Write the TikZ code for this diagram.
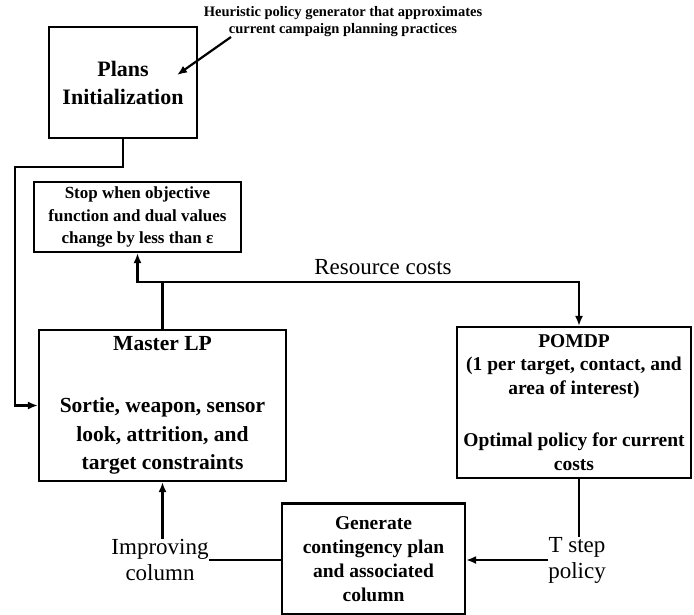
\documentclass[tikz,border=0pt]{standalone}
\usepackage{fontspec}
\setmainfont{Liberation Serif}
\usetikzlibrary{arrows.meta}
\begin{document}
\begin{tikzpicture}[x=1pt,y=-1pt,
  box/.style={draw, line width=2.2pt, align=center, inner sep=0pt},
  conn/.style={line width=2.2pt},
  arr/.style={conn, -{Latex[length=10pt,width=8pt]}},
  lbl/.style={align=center, inner sep=0pt, font=\fontsize{23}{26}\selectfont}]
\useasboundingbox (0,0) rectangle (694,614);

% process boxes
\node[box, minimum width=148pt, minimum height=111pt,
      font=\bfseries\fontsize{22}{28}\selectfont] (plans) at (123,82.5)
  {Plans\\Initialization};
\node[box, minimum width=207pt, minimum height=70pt,
      font=\bfseries\fontsize{17}{22.5}\selectfont] (stop) at (137.5,217)
  {Stop when objective\\function and dual values\\change by less than ε};
\node[box, minimum width=247pt, minimum height=151pt,
      font=\bfseries\fontsize{21.5}{28.5}\selectfont] (master) at (162.5,405.5)
  {Master LP\\[34pt]Sortie, weapon, sensor\\look, attrition, and\\target constraints};
\node[box, minimum width=234pt, minimum height=151pt,
      font=\bfseries\fontsize{19.5}{23.5}\selectfont] (pomdp) at (574,402.5)
  {POMDP\\(1 per target, contact, and\\area of interest)\\[29pt]Optimal policy for current\\costs};
\node[box, minimum width=183pt, minimum height=111pt,
      font=\bfseries\fontsize{19.5}{24}\selectfont] (gen) at (373.5,559)
  {Generate\\contingency plan\\and associated\\column};

% free-standing labels
\node[align=center, inner sep=0pt, font=\bfseries\fontsize{14.5}{17}\selectfont] (heur) at (343,22)
  {Heuristic policy generator that approximates\\current campaign planning practices};
\node[lbl] (res) at (383,267) {Resource costs};
\node[lbl] (impr) at (160,560) {Improving\\column};
\node[lbl] (tstep) at (577,560) {T step\\policy};

% helper points
\coordinate (htail) at (231,37);
\coordinate (htip) at (177,75);
\coordinate (jog) at (15,167);
\coordinate (split) at (162.5,282);

% connectors
\draw[arr] (htail) -- (htip);
\draw[arr] (plans.south) |- (jog) |- (master.west);
\draw[conn] (master.north) -- (split);
\draw[arr] (split) -| (stop.south);
\draw[arr] (split) -| ([xshift=5pt]pomdp.north);
\draw[conn] ([xshift=5pt]pomdp.south) -- ([xshift=5pt]pomdp.south |- tstep.north);
\draw[arr] (tstep.west) -- (gen.east |- tstep.west);
\draw[conn] (gen.west |- impr.east) -- (impr.east);
\draw[arr] (impr.north -| master.south) -- (master.south);
\end{tikzpicture}
\end{document}
